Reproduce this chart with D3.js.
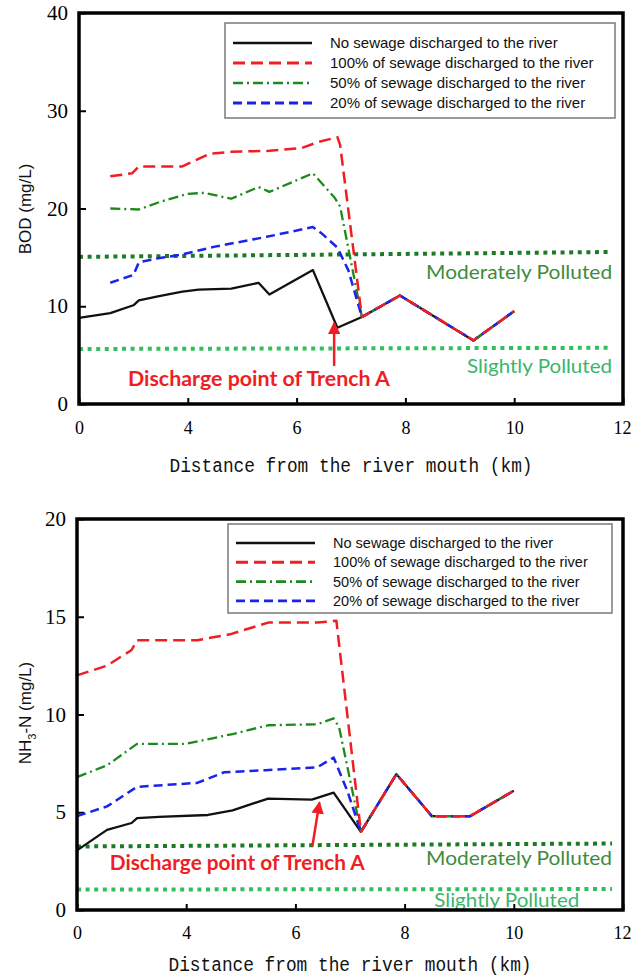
<!DOCTYPE html>
<html>
<head>
<meta charset="utf-8">
<script src="https://cdn.jsdelivr.net/npm/d3@7"></script>
<style>
  body { margin: 0; background: #fff; }
</style>
</head>
<body>
<div id="chart"></div>
<script>
// distance ticks as printed on the axis (spacing is even on paper)
const kmTicks = [0, 4, 6, 8, 10, 12];
const bodTicks = [0, 10, 20, 30, 40];
const nh3Ticks = [0, 5, 10, 15, 20];
const legendNames = [
    "No sewage discharged to the river",
    "100% of sewage discharged to the river",
    "50% of sewage discharged to the river",
    "20% of sewage discharged to the river"
];

// BOD (mg/L) vs distance (km)
const bodNone  = [[0,8.8],[1.15,9.3],[2.0,10.1],[2.2,10.6],[2.9,11.0],[3.8,11.5],[4.2,11.7],[4.8,11.8],[5.3,12.4],[5.5,11.2],[6.3,13.7],[6.75,7.8],[7.2,8.9],[7.9,11.1],[9.25,6.5],[10,9.5]];
const bodFull  = [[1.15,23.3],[1.95,23.6],[2.2,24.3],[3.8,24.3],[4.4,25.6],[4.8,25.8],[5.5,25.9],[6.1,26.2],[6.4,26.8],[6.75,27.3],[6.8,26.5],[7.2,8.9],[7.9,11.1],[9.25,6.5],[10,9.5]];
const bodHalf  = [[1.15,20.0],[2.2,19.9],[3.0,20.7],[4.0,21.5],[4.3,21.6],[4.8,21.0],[5.3,22.2],[5.5,21.7],[6.3,23.6],[6.7,21.1],[6.8,20.2],[7.2,8.9],[7.9,11.1],[9.25,6.5],[10,9.5]];
const bodFifth = [[1.15,12.4],[2.0,13.2],[2.2,14.5],[2.9,14.9],[3.8,15.3],[4.5,16.1],[5.45,17.1],[6.3,18.1],[6.45,17.5],[6.75,16.0],[6.95,13.7],[7.2,8.9],[7.9,11.1],[9.25,6.5],[10,9.5]];
const bodModerate = [[0,15.05],[11.8,15.55]];
const bodSlight   = [[0,5.63],[11.8,5.75]];

// NH3-N (mg/L) vs distance (km)
const nh3None  = [[0,3.05],[1.1,4.1],[2.0,4.45],[2.2,4.7],[3.0,4.76],[4.4,4.86],[4.85,5.1],[5.5,5.7],[6.3,5.65],[6.7,6.0],[7.2,4.0],[7.85,6.95],[8.5,4.8],[9.2,4.8],[10,6.1]];
const nh3Full  = [[0,12.0],[1.1,12.5],[2.0,13.3],[2.2,13.8],[4.2,13.8],[4.8,14.1],[5.5,14.7],[6.4,14.7],[6.75,14.8],[7.2,4.0],[7.85,6.95],[8.5,4.8],[9.2,4.8],[10,6.1]];
const nh3Half  = [[0,6.8],[1.1,7.4],[2.2,8.5],[4.0,8.5],[4.85,9.0],[5.5,9.45],[6.4,9.5],[6.7,9.8],[6.8,9.35],[7.2,4.0],[7.85,6.95],[8.5,4.8],[9.2,4.8],[10,6.1]];
const nh3Fifth = [[0,4.8],[1.1,5.3],[2.2,6.3],[4.2,6.5],[4.7,7.05],[5.45,7.15],[6.4,7.3],[6.7,7.8],[6.95,6.1],[7.2,4.0],[7.85,6.95],[8.5,4.8],[9.2,4.8],[10,6.1]];
const nh3Moderate = [[0,3.25],[11.8,3.4]];
const nh3Slight   = [[0,1.05],[11.8,1.07]];

// annotation anchors in data units
const bodArrow = [[6.69,3.9],[6.69,8.3]];
const bodNote  = [1.8, 2.55];
const bodModLabel = [11.8, 13.5];
const bodSliLabel = [11.8, 3.9];
const nh3Arrow = [[6.31,3.25],[6.44,5.5]];
const nh3Note  = [1.2, 2.4];
const nh3ModLabel = [11.8, 2.66];
const nh3SliLabel = [11.2, 0.5];

const styles = [
    {color: "#111", dash: null, width: 2.3},
    {color: "#f01e23", dash: "12,6", width: 2.5},
    {color: "#1c8a1c", dash: "10,4,2,4", width: 2.3},
    {color: "#1a22ee", dash: "9,5", width: 2.5}
];
const drawOrder = [0, 2, 3, 1];

const width = 631, height = 977;
const svg = d3.select("#chart").append("svg")
    .attr("width", width)
    .attr("height", height)
    .style("font-family", "'Liberation Sans', Arial, sans-serif");

svg.append("defs").append("marker")
    .attr("id", "arrow")
    .attr("viewBox", "0 0 10 10")
    .attr("refX", 9).attr("refY", 5)
    .attr("markerWidth", 5).attr("markerHeight", 5)
    .attr("orient", "auto-start-reverse")
    .attr("markerUnits", "strokeWidth")
  .append("path")
    .attr("d", "M0,0L10,5L0,10z")
    .attr("fill", "#f01e23");

function panel(cfg) {
    const g = svg.append("g");
    const step = (cfg.right - cfg.left) / (kmTicks.length - 1);
    const x = d3.scaleLinear()
        .domain(kmTicks)
        .range(kmTicks.map((d, i) => cfg.left + i * step));
    const y = d3.scaleLinear()
        .domain(cfg.yDomain)
        .range([cfg.bottom, cfg.top]);

    // x axis
    g.append("g")
        .attr("transform", `translate(0,${cfg.bottom})`)
        .call(d3.axisBottom(x).tickValues(kmTicks).tickSizeInner(-6).tickSizeOuter(0).tickPadding(cfg.xPad))
        .call(a => a.select(".domain").remove())
        .call(a => a.selectAll(".tick line").attr("stroke", "#000").attr("stroke-width", 2))
        .call(a => a.selectAll(".tick text")
            .attr("fill", "#000")
            .attr("font-family", "'Liberation Serif', 'Times New Roman', serif")
            .attr("font-size", 18))
        .call(a => a.select(".tick:last-of-type text")
            .attr("text-anchor", "end")
            .attr("dx", 8));

    // y axis
    g.append("g")
        .attr("transform", `translate(${cfg.left},0)`)
        .call(d3.axisLeft(y).tickValues(cfg.yTicks).tickSizeInner(-7).tickSizeOuter(0).tickPadding(11))
        .call(a => a.select(".domain").remove())
        .call(a => a.selectAll(".tick line").attr("stroke", "#000").attr("stroke-width", 2))
        .call(a => a.selectAll(".tick text")
            .attr("fill", "#000")
            .attr("font-family", "'Liberation Serif', 'Times New Roman', serif")
            .attr("font-size", 21));

    g.append("text")
        .attr("x", (cfg.left + cfg.right) / 2)
        .attr("y", cfg.bottom + cfg.titleOff)
        .attr("text-anchor", "middle")
        .attr("font-family", "'Liberation Mono', 'Courier New', monospace")
        .attr("font-size", 20)
        .attr("textLength", 363)
        .attr("lengthAdjust", "spacingAndGlyphs")
        .attr("fill", "#111")
        .text("Distance from the river mouth (km)");

    const yt = g.append("text")
        .attr("transform", `translate(25,${cfg.yTitleY}) rotate(-90)`)
        .attr("text-anchor", "middle")
        .attr("dy", "0.35em")
        .attr("font-size", 17)
        .attr("fill", "#111");
    cfg.yTitle(yt);

    const line = d3.line().x(d => x(d[0])).y(d => y(d[1]));

    // pollution thresholds
    [[cfg.moderate, "#1d7a25"], [cfg.slight, "#2fc05c"]].forEach(([pts, c]) => {
        g.append("path")
            .datum(pts)
            .attr("d", line)
            .attr("fill", "none")
            .attr("stroke", c)
            .attr("stroke-width", 4)
            .attr("stroke-dasharray", "4,4.6");
    });

    drawOrder.forEach(i => {
        const s = styles[i];
        g.append("path")
            .datum(cfg.series[i])
            .attr("d", line)
            .attr("fill", "none")
            .attr("stroke", s.color)
            .attr("stroke-width", s.width)
            .attr("stroke-linejoin", "round")
            .attr("stroke-dasharray", s.dash);
    });

    // labels on thresholds
    g.append("text")
        .attr("x", x(cfg.modLabel[0])).attr("y", y(cfg.modLabel[1]))
        .attr("dy", "0.35em")
        .attr("text-anchor", "end")
        .attr("font-family", "Lato, 'Open Sans', sans-serif")
        .attr("font-size", 20)
        .attr("textLength", 186).attr("lengthAdjust", "spacingAndGlyphs")
        .attr("fill", "#3d8c3d")
        .text("Moderately Polluted");
    g.append("text")
        .attr("x", x(cfg.sliLabel[0])).attr("y", y(cfg.sliLabel[1]))
        .attr("dy", "0.35em")
        .attr("text-anchor", "end")
        .attr("font-family", "Lato, 'Open Sans', sans-serif")
        .attr("font-size", 20)
        .attr("textLength", 145).attr("lengthAdjust", "spacingAndGlyphs")
        .attr("fill", "#3bb56b")
        .text("Slightly Polluted");

    // discharge point
    g.append("line")
        .attr("x1", x(cfg.arrow[0][0])).attr("y1", y(cfg.arrow[0][1]))
        .attr("x2", x(cfg.arrow[1][0])).attr("y2", y(cfg.arrow[1][1]))
        .attr("stroke", "#f01e23")
        .attr("stroke-width", 2.5)
        .attr("marker-end", "url(#arrow)");
    g.append("text")
        .attr("x", x(cfg.note[0])).attr("y", y(cfg.note[1]))
        .attr("dy", "0.35em")
        .attr("font-family", "Lato, 'Open Sans', sans-serif")
        .attr("font-weight", "bold")
        .attr("font-size", 20)
        .attr("textLength", cfg.noteLen).attr("lengthAdjust", "spacingAndGlyphs")
        .attr("fill", "#f01e23")
        .text("Discharge point of Trench A");

    // legend
    const lg = g.append("g").attr("transform", `translate(${cfg.legend.x},${cfg.legend.y})`);
    lg.append("rect")
        .attr("width", cfg.legend.w).attr("height", cfg.legend.h)
        .attr("fill", "#fff")
        .attr("stroke", "#7a7a7a")
        .attr("stroke-width", 1.5);
    legendNames.forEach((name, i) => {
        const s = styles[i];
        const ry = cfg.legend.row0 + i * cfg.legend.gap;
        lg.append("line")
            .attr("x1", 8).attr("x2", 87)
            .attr("y1", ry).attr("y2", ry)
            .attr("stroke", s.color)
            .attr("stroke-width", s.width + 0.4)
            .attr("stroke-dasharray", s.dash);
        lg.append("text")
            .attr("x", 105).attr("y", ry)
            .attr("dy", "0.35em")
            .attr("font-size", cfg.legend.fs)
            .attr("fill", "#111")
            .text(name);
    });

    // frame
    g.append("rect")
        .attr("x", cfg.left).attr("y", cfg.top)
        .attr("width", cfg.right - cfg.left)
        .attr("height", cfg.bottom - cfg.top)
        .attr("fill", "none")
        .attr("stroke", "#000")
        .attr("stroke-width", 3.5);
}

panel({
    left: 79, right: 623, top: 13, bottom: 404,
    yDomain: [0, 40], yTicks: bodTicks,
    xPad: 17, titleOff: 68, yTitleY: 209,
    yTitle: t => t.text("BOD (mg/L)"),
    series: [bodNone, bodFull, bodHalf, bodFifth],
    moderate: bodModerate, slight: bodSlight,
    modLabel: bodModLabel, sliLabel: bodSliLabel,
    arrow: bodArrow, note: bodNote, noteLen: 262,
    legend: {x: 225, y: 23, w: 390, h: 95, row0: 20, gap: 20, fs: 15}
});

panel({
    left: 77, right: 623, top: 519, bottom: 910,
    yDomain: [0, 20], yTicks: nh3Ticks,
    xPad: 16, titleOff: 61, yTitleY: 713,
    yTitle: t => {
        t.append("tspan").text("NH");
        t.append("tspan").attr("font-size", 11).attr("dy", 5).text("3");
        t.append("tspan").attr("dy", -5).text("-N (mg/L)");
    },
    series: [nh3None, nh3Full, nh3Half, nh3Fifth],
    moderate: nh3Moderate, slight: nh3Slight,
    modLabel: nh3ModLabel, sliLabel: nh3SliLabel,
    arrow: nh3Arrow, note: nh3Note, noteLen: 255,
    legend: {x: 228, y: 524, w: 384, h: 89, row0: 19, gap: 19.3, fs: 14.5}
});
</script>
</body>
</html>
